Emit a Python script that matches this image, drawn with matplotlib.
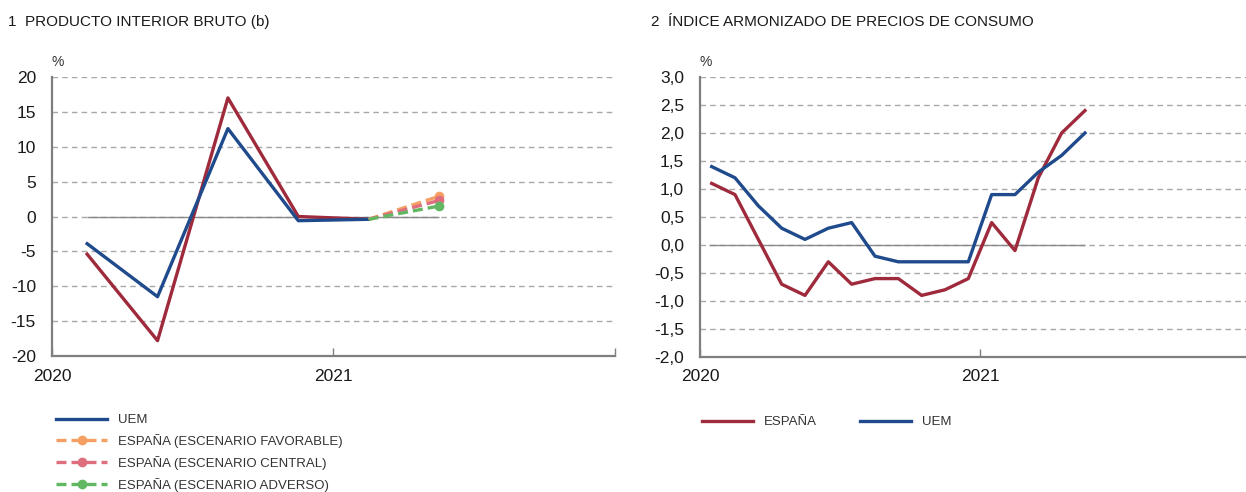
"""Two-panel chart: GDP (quarterly) and HICP (monthly), Spain vs euro area."""

import matplotlib
matplotlib.use("Agg")
import matplotlib.pyplot as plt
from matplotlib.ticker import FuncFormatter

# ---- data -----------------------------------------------------------------
GDP_QUARTERS = ["2020T1", "2020T2", "2020T3", "2020T4", "2021T1"]
GDP_UEM = [-3.9, -11.5, 12.6, -0.6, -0.4]
GDP_ESP = [-5.4, -17.8, 17.0, 0.0, -0.4]
SCEN_QUARTER = "2021T2"
SCEN_FAVORABLE = 2.9
SCEN_CENTRAL = 2.3
SCEN_ADVERSO = 1.5

HICP_MONTHS = ["2020-01", "2020-02", "2020-03", "2020-04", "2020-05", "2020-06",
               "2020-07", "2020-08", "2020-09", "2020-10", "2020-11", "2020-12",
               "2021-01", "2021-02", "2021-03", "2021-04", "2021-05"]
HICP_ESP = [1.1, 0.9, 0.1, -0.7, -0.9, -0.3, -0.7, -0.6, -0.6, -0.9, -0.8, -0.6,
            0.4, -0.1, 1.2, 2.0, 2.4]
HICP_UEM = [1.4, 1.2, 0.7, 0.3, 0.1, 0.3, 0.4, -0.2, -0.3, -0.3, -0.3, -0.3,
            0.9, 0.9, 1.3, 1.6, 2.0]

YEAR_TICKS = [2020, 2021, 2022]

RED = "#9E2A3C"
BLUE = "#1F4A8C"
ORANGE = "#F59F64"
PINK = "#DE6E7E"
GREEN = "#62B862"
GRID = "#A8A8A8"
SPINE = "#7F7F7F"
TEXT = "#1A1A1A"

TICK_FONT = ["Liberation Sans", "DejaVu Sans"]
NARROW_FONT = ["Liberation Sans", "DejaVu Sans"]


def quarter_x(label):
    year, q = int(label[:4]), int(label[-1])
    return year + (q - 0.5) / 4


def month_x(label):
    year, m = int(label[:4]), int(label[5:])
    return year + (m - 0.5) / 12


def style_axis(ax, ymin, ymax, step, fmt):
    ax.set_xlim(YEAR_TICKS[0], YEAR_TICKS[-1])
    ax.set_ylim(ymin, ymax)
    ticks = [ymin + i * step for i in range(int(round((ymax - ymin) / step)) + 1)]
    ax.set_yticks(ticks)
    ax.yaxis.set_major_formatter(FuncFormatter(fmt))
    ax.set_xticks(YEAR_TICKS)
    ax.set_xticklabels([str(y) for y in YEAR_TICKS[:-1]] + [""])
    for t in ticks:
        if t not in (0, ymin):
            ax.axhline(t, color=GRID, lw=1.0, ls=(0, (4, 3)), zorder=0)
    ax.axhline(0, color=GRID, lw=1.0, ls=(0, (4, 3)), zorder=0)
    for side in ("top", "right"):
        ax.spines[side].set_visible(False)
    for side in ("left", "bottom"):
        ax.spines[side].set_color(SPINE)
        ax.spines[side].set_linewidth(1.6)
    ax.tick_params(axis="x", direction="in", length=6, width=1, color=SPINE,
                   pad=9, labelsize=12.5, labelcolor=TEXT)
    ax.tick_params(axis="y", length=0, pad=11.5, labelsize=12.5, labelcolor=TEXT)
    for lab in ax.get_xticklabels() + ax.get_yticklabels():
        lab.set_family(TICK_FONT)
    ax.text(0.01, 1.03, "%", transform=ax.transAxes, ha="center", va="bottom",
            fontsize=10, color="#333333", family=TICK_FONT)


fig = plt.figure(figsize=(12.46, 4.92), dpi=100)

# ---- panel 1: GDP -----------------------------------------------------------
ax1 = fig.add_axes([0.0417, 0.2764, 0.4519, 0.5671])
style_axis(ax1, -20, 20, 5, lambda v, p: f"{v:.0f}")
gx = [quarter_x(q) for q in GDP_QUARTERS]
sx = quarter_x(SCEN_QUARTER)
ax1.hlines(0, gx[0], sx, color="#8A8A8A", lw=1.0, zorder=1)
ax1.plot(gx, GDP_ESP, color=RED, lw=2.4, zorder=3)
(l_uem1,) = ax1.plot(gx, GDP_UEM, color=BLUE, lw=2.4, zorder=4, label="UEM")
scen_handles = []
for val, col, name in [(SCEN_FAVORABLE, ORANGE, "ESPAÑA (ESCENARIO FAVORABLE)"),
                       (SCEN_CENTRAL, PINK, "ESPAÑA (ESCENARIO CENTRAL)"),
                       (SCEN_ADVERSO, GREEN, "ESPAÑA (ESCENARIO ADVERSO)")]:
    (h,) = ax1.plot([gx[-1], sx], [GDP_ESP[-1], val], color=col, lw=2.4,
                    ls=(0, (3, 1.5)), marker="o", markersize=6, markevery=[1],
                    zorder=5, label=name)
    scen_handles.append(h)

fig.text(0.0064, 0.955, "1  PRODUCTO INTERIOR BRUTO (b)", fontsize=11,
         color=TEXT, family=NARROW_FONT, va="center")

leg1 = fig.legend(handles=[l_uem1] + scen_handles, loc="upper left",
                  bbox_to_anchor=(0.040, 0.172), frameon=False,
                  handlelength=3.8, handletextpad=0.85, labelspacing=0.6,
                  borderpad=0, numpoints=1,
                  prop={"family": NARROW_FONT, "size": 9.5})
for t in leg1.get_texts():
    t.set_color("#333333")

# ---- panel 2: HICP ----------------------------------------------------------
ax2 = fig.add_axes([0.5618, 0.2744, 0.4494, 0.5691])
style_axis(ax2, -2.0, 3.0, 0.5, lambda v, p: f"{v:.1f}".replace(".", ","))
mx = [month_x(m) for m in HICP_MONTHS]
ax2.hlines(0, mx[0] - 0.01, mx[-1], color="#8A8A8A", lw=1.0, zorder=1)
(l_esp2,) = ax2.plot(mx, HICP_ESP, color=RED, lw=2.4, zorder=3, label="ESPAÑA")
(l_uem2,) = ax2.plot(mx, HICP_UEM, color=BLUE, lw=2.4, zorder=4, label="UEM")

fig.text(0.5225, 0.955, "2  ÍNDICE ARMONIZADO DE PRECIOS DE CONSUMO", fontsize=11,
         color=TEXT, family=NARROW_FONT, va="center")

leg2 = fig.legend(handles=[l_esp2, l_uem2], loc="upper left",
                  bbox_to_anchor=(0.5585, 0.168), frameon=False, ncol=2,
                  handlelength=3.8, handletextpad=0.85, columnspacing=3.3,
                  borderpad=0, prop={"family": NARROW_FONT, "size": 9.5})
for t in leg2.get_texts():
    t.set_color("#333333")

fig.savefig("out.png", dpi=100)
